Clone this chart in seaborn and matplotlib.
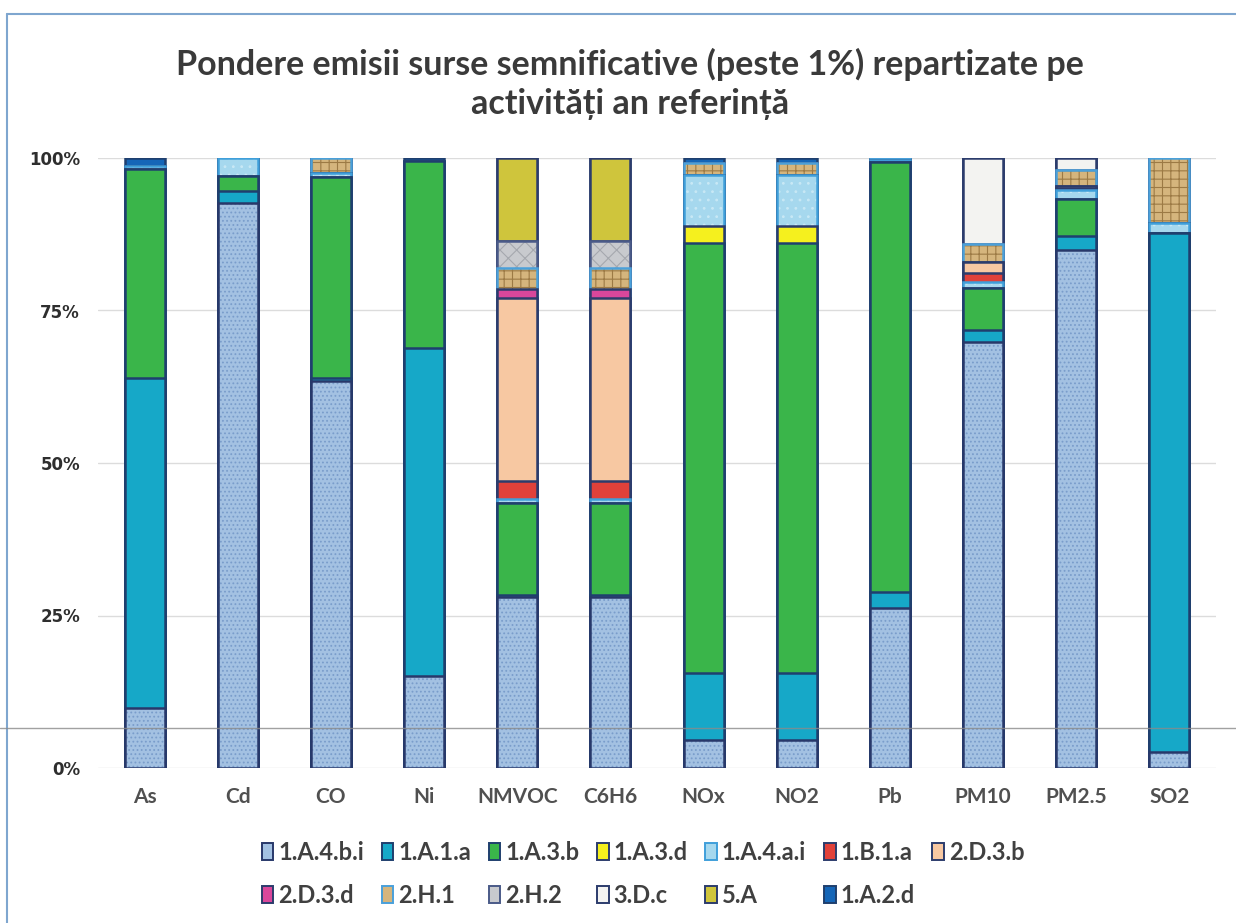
import matplotlib
matplotlib.use("Agg")
import matplotlib.pyplot as plt
import seaborn as sns
import numpy as np
from matplotlib.patches import Patch
from matplotlib.lines import Line2D

# ---------------- data ----------------
categories = ["As", "Cd", "CO", "Ni", "NMVOC", "C6H6", "NOx", "NO2", "Pb", "PM10", "PM2.5", "SO2"]

series_names = ["1.A.4.b.i", "1.A.1.a", "1.A.3.b", "1.A.3.d", "1.A.4.a.i", "1.B.1.a",
                "2.D.3.b", "2.D.3.d", "2.H.1", "2.H.2", "3.D.c", "5.A", "1.A.2.d"]

s_1A4bi = [9.8, 92.6, 63.5, 15.1, 28.0, 28.0, 4.6, 4.6, 26.2, 69.8, 85.0, 2.6]
s_1A1a  = [54.1, 2.0, 0.5, 53.8, 0.3, 0.3, 11.0, 11.0, 2.7, 2.0, 2.2, 85.1]
s_1A3b  = [34.3, 2.4, 32.9, 30.6, 15.2, 15.2, 70.4, 70.4, 70.4, 6.9, 6.0, 0.0]
s_1A3d  = [0, 0, 0, 0, 0, 0, 2.9, 2.9, 0, 0, 0, 0]
s_1A4ai = [0.5, 3.0, 0.7, 0, 0.6, 0.6, 8.3, 8.3, 0.3, 1.0, 1.5, 1.7]
s_1B1a  = [0, 0, 0, 0, 3.0, 3.0, 0, 0, 0, 1.4, 0.4, 0]
s_2D3b  = [0, 0, 0, 0, 29.9, 29.9, 0, 0, 0, 1.8, 0.3, 0]
s_2D3d  = [0, 0, 0, 0, 1.5, 1.5, 0, 0, 0, 0, 0, 0]
s_2H1   = [0, 0, 2.4, 0, 3.5, 3.5, 2.0, 2.0, 0.4, 3.0, 2.7, 10.6]
s_2H2   = [0, 0, 0, 0, 4.4, 4.4, 0, 0, 0, 0, 0, 0]
s_3Dc   = [0, 0, 0, 0, 0, 0, 0, 0, 0, 14.1, 1.9, 0]
s_5A    = [0, 0, 0, 0, 13.6, 13.6, 0, 0, 0, 0, 0, 0]
s_1A2d  = [1.3, 0, 0, 0.5, 0, 0, 0.8, 0.8, 0, 0, 0, 0]

series_values = [s_1A4bi, s_1A1a, s_1A3b, s_1A3d, s_1A4ai, s_1B1a,
                 s_2D3b, s_2D3d, s_2H1, s_2H2, s_3Dc, s_5A, s_1A2d]

y_ticks = [0, 25, 50, 75, 100]
y_ticklabels = ["0%", "25%", "50%", "75%", "100%"]

title = "Pondere emisii surse semnificative (peste 1%) repartizate pe\nactivități an referință"

# ---------------- styles ----------------
face_colors = ["#A3C1E2", "#16A8C8", "#3AB54A", "#F5F01E", "#A6D8EE", "#E0413A",
               "#F7C8A2", "#D9479B", "#D5B57D", "#C8CACE", "#F3F3F1", "#CFC53C", "#1566B8"]
hatches = ["....", None, None, None, "..", None, None, None, "++", "xx", None, None, None]
hatch_colors = ["#7A9DCB", None, None, None, "#C8E8F5", None, None, None, "#9C7A45", "#A5A8AE",
                None, None, None]
edge_colors = ["#28386A", "#1F3F6E", "#1F3F6E", "#2C3C6C", "#3F9FDA", "#2C3C6C",
               "#2C3C6C", "#2C3C6C", "#4AA0DA", "#4A5A88", "#2C3C6C", "#2C3C6C", "#1F3F6E"]

sns.set_style("white")
plt.rcParams["font.family"] = ["Lato", "DejaVu Sans"]
plt.rcParams["hatch.linewidth"] = 0.8

fig = plt.figure(figsize=(12.36, 9.23), dpi=100)
ax = fig.add_axes([98 / 1236, 1 - 768 / 923, (1216 - 98) / 1236, (768 - 158) / 923])

cum = np.cumsum(np.array(series_values, dtype=float), axis=0)
bar_w = 0.43

# draw top series first (cumulative), lower ones overlay
for i in range(len(series_names) - 1, -1, -1):
    heights = cum[i]
    sns.barplot(x=categories, y=heights, order=categories, color=face_colors[i],
                saturation=1, width=bar_w, errorbar=None, ax=ax,
                edgecolor=hatch_colors[i] if hatches[i] else face_colors[i],
                linewidth=0, hatch=hatches[i])
    sns.barplot(x=categories, y=heights, order=categories, color=edge_colors[i],
                saturation=1, width=bar_w, errorbar=None, ax=ax, fill=False,
                linewidth=1.8)

ax.set_ylim(0, 100)
ax.set_xlim(-0.5, len(categories) - 0.5)
ax.set_yticks(y_ticks)
ax.set_yticklabels(y_ticklabels, family="DejaVu Sans", fontweight="bold", fontsize=12,
                   color="#2E2E2E")
ax.set_xticks(range(len(categories)))
ax.set_xticklabels(categories, fontweight="bold", fontsize=15, color="#505050")
ax.tick_params(axis="y", length=0, pad=13)
ax.tick_params(axis="x", length=0, pad=14)
ax.set_xlabel("")
ax.set_ylabel("")
ax.yaxis.grid(True, color="#DCDCDC", linewidth=1)
ax.set_axisbelow(True)
for sp in ax.spines.values():
    sp.set_visible(False)

fig.text(630 / 1236, 1 - 84 / 923, title, ha="center", va="center", fontsize=24.5,
         fontweight="bold", color="#3A3A3A", linespacing=1.25)

handles = [Patch(facecolor=face_colors[i], edgecolor=edge_colors[i], linewidth=1.4,
                 hatch=None) for i in range(len(series_names))]
order_idx = []
ncol = 7
for c in range(ncol):
    order_idx.append(c)
    if c + ncol < len(series_names):
        order_idx.append(c + ncol)
leg = fig.legend([handles[i] for i in order_idx], [series_names[i] for i in order_idx],
                 ncol=ncol, loc="center", bbox_to_anchor=(643 / 1236, 1 - 874 / 923),
                 frameon=False, prop={"weight": "bold", "size": 17},
                 handlelength=0.5, handleheight=0.75, handletextpad=0.2,
                 columnspacing=0.75, labelspacing=0.85)
for t in leg.get_texts():
    t.set_color("#404040")

# scan frame / artifact lines
fig.add_artist(Line2D([7 / 1236, 1.0], [1 - 14 / 923, 1 - 14 / 923], color="#7FA6CF", lw=1.5))
fig.add_artist(Line2D([7 / 1236, 7 / 1236], [0.0, 1 - 14 / 923], color="#7FA6CF", lw=1.5))
fig.add_artist(Line2D([0.0, 1.0], [1 - 728 / 923, 1 - 728 / 923], color="#8A8A8A", lw=1,
                      alpha=0.8))

fig.savefig("out.png", dpi=100)
